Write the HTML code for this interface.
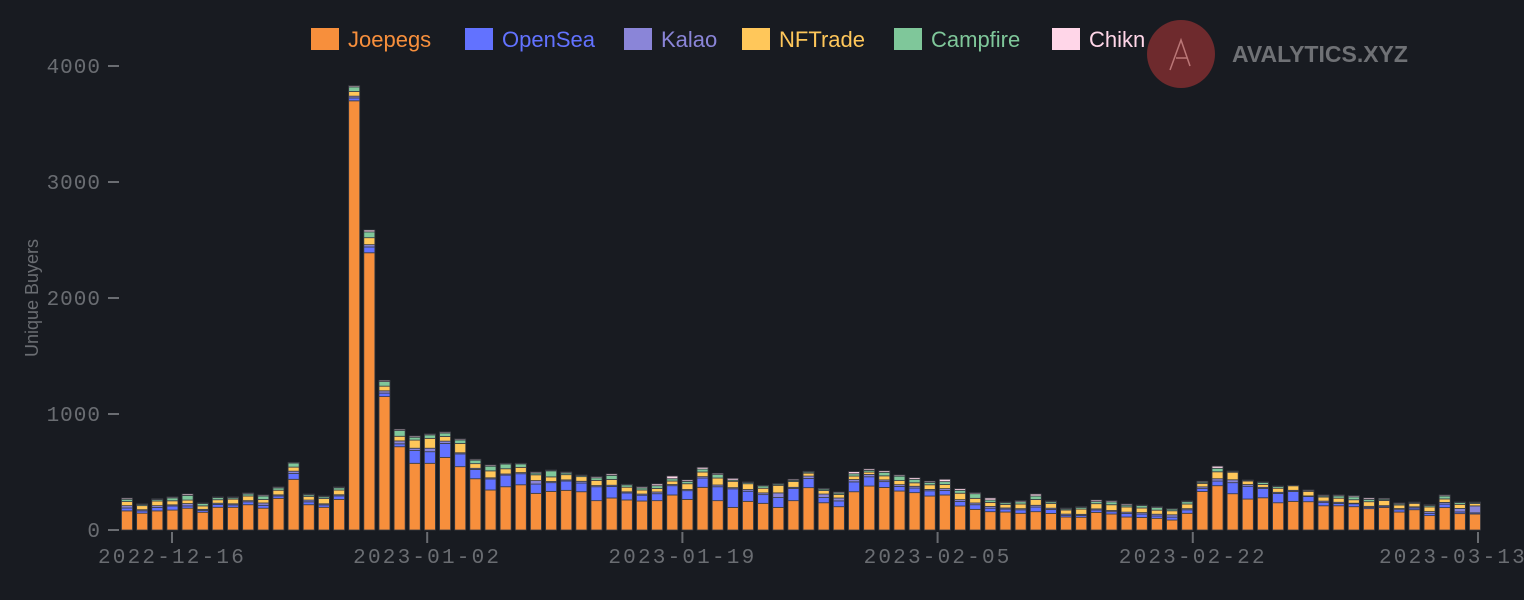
<!DOCTYPE html>
<html><head><meta charset="utf-8">
<style>
html,body{margin:0;padding:0;background:#181b21;}
svg{display:block;}
</style></head>
<body>
<svg id="chart" width="1524" height="600" xmlns="http://www.w3.org/2000/svg">
<rect x="0" y="0" width="1524" height="600" fill="#181b21"/>
<g>
<circle cx="1181" cy="54" r="34" fill="#6e2a2d"/>
<path d="M1170 70 L1181 40 L1190 66 M1176 58 L1187 58" stroke="#b77" stroke-width="1.5" fill="none"/>
<text x="1232" y="62" font-family="Liberation Sans, sans-serif" font-weight="bold" font-size="23" fill="#6f7175">AVALYTICS.XYZ</text>
</g>
<g id="legend"></g>
<text x="38" y="298" transform="rotate(-90 38 298)" text-anchor="middle" font-family="Liberation Sans, sans-serif" font-size="18" fill="#6a6d72">Unique Buyers</text>
<g id="yaxis"></g>
<g id="xaxis"></g>
<g id="bars"></g>
</svg>
<script>
const startDate = "2022-12-13";
const seriesNames = ["Joepegs","OpenSea","Kalao","NFTrade","Campfire","Chikn"];
const seriesColors = ["#f78f3c","#6272ff","#8a85d8","#ffc75a","#7fc79a","#ffd6e8"];
const yTicks = [0,1000,2000,3000,4000];
const xTickLabels = ["2022-12-16","2023-01-02","2023-01-19","2023-02-05","2023-02-22","2023-03-13"];
const joepegs = [165,145,165,172,188,153,196,196,218,188,273,437,218,196,264,3700,2390,1150,718,575,575,626,546,442,345,373,390,316,333,342,330,253,276,259,250,253,302,264,368,253,195,247,230,195,253,365,235,201,330,379,367,336,322,293,302,207,178,158,155,144,158,143,112,110,152,138,112,108,101,86,144,332,382,313,267,278,235,247,244,209,209,201,184,195,155,175,124,193,141,138];
const opensea = [25,20,30,35,20,15,25,20,25,25,20,50,25,20,30,25,50,30,25,110,100,120,110,80,95,100,95,80,75,80,75,120,100,60,50,60,80,75,80,120,160,87,75,85,105,80,45,50,85,80,50,40,40,45,40,40,40,30,25,30,40,35,15,15,20,20,30,30,20,25,30,25,40,95,110,80,80,85,45,30,20,25,10,10,20,15,20,30,15,10];
const kalao = [20,10,15,10,20,10,10,10,10,20,10,20,15,10,10,15,20,20,25,20,30,20,10,10,10,10,10,30,10,10,15,10,10,10,10,15,10,10,12,15,10,15,15,40,10,20,30,25,20,20,15,15,15,12,15,15,15,15,10,10,15,10,10,10,10,10,12,12,15,20,10,15,20,25,15,10,10,10,5,10,10,5,10,5,10,10,15,15,30,60];
const nftrade = [35,35,40,35,30,30,30,40,40,30,40,35,30,45,40,40,60,40,40,70,85,40,80,40,60,45,45,50,40,45,40,45,50,40,35,30,30,50,40,60,55,50,40,65,50,25,30,30,30,20,35,35,30,40,35,55,40,35,30,40,50,40,35,45,45,50,45,40,35,35,40,30,60,65,30,25,35,40,40,35,35,30,40,45,30,30,40,30,35,20];
const campfire = [20,10,12,25,40,20,18,12,18,30,20,35,15,15,20,40,50,40,50,25,30,30,30,30,40,40,30,15,52,15,10,22,35,20,18,24,20,20,25,30,10,10,20,10,10,10,12,12,20,15,30,38,30,20,25,25,40,20,15,20,30,15,10,15,18,25,15,20,22,15,20,10,30,5,5,18,15,0,3,10,20,25,20,10,10,6,12,25,15,8];
const chikn = [10,5,7,8,12,5,6,7,8,9,8,6,7,7,7,10,16,10,10,10,8,9,9,8,10,7,5,9,7,8,4,10,12,5,10,15,23,12,15,10,15,5,5,5,9,6,7,9,18,12,13,10,14,10,20,14,9,18,6,9,17,7,7,6,13,10,10,5,8,3,6,8,18,5,4,3,4,3,8,8,8,10,12,8,8,5,7,9,5,5];
const series = [joepegs,opensea,kalao,nftrade,campfire,chikn];

const NS="http://www.w3.org/2000/svg";
const Y0=530, YPX=464/4000, BW=11;
const TICK_X0=172, DAY=(1478-172)/87;
const xTimeScale = d => TICK_X0 + (d-3)*DAY;
const BAR_X0=127, BAR_X1=1475;
const xBand = i => BAR_X0 + i*(BAR_X1-BAR_X0)/(joepegs.length-1);
const yScale = v => Y0 - v*YPX;
function dayIndex(s){return Math.round((Date.parse(s+"T00:00:00Z")-Date.parse(startDate+"T00:00:00Z"))/86400000);}
function mk(tag,attrs,parent){const e=document.createElementNS(NS,tag);for(const k in attrs)e.setAttribute(k,attrs[k]);parent.appendChild(e);return e;}

const lg=document.getElementById("legend");
const legendX=[311,465,624,742,894,1052];
seriesNames.forEach((n,i)=>{
  const g=mk("g",{},lg);
  
  
  mk("rect",{x:legendX[i],y:28,width:28,height:22,fill:seriesColors[i]},g);
  const t=mk("text",{x:legendX[i]+37,y:47,"font-family":"Liberation Sans, sans-serif","font-size":"22",fill:seriesColors[i]},g);
  t.textContent=n;
});

const ya=document.getElementById("yaxis");
yTicks.forEach(v=>{
  const y=yScale(v);
  const l=mk("line",{x1:108,x2:119,y1:y,y2:y,stroke:"#6a6d72","stroke-width":2},ya);
  
  
  const t=mk("text",{x:101,y:y+7,"text-anchor":"end","font-family":"Liberation Mono, monospace","font-size":"21","letter-spacing":"1",fill:"#6a6d72"},ya);
  
  
  t.textContent=v;
});

const xa=document.getElementById("xaxis");
xTickLabels.forEach(s=>{
  const x=xTimeScale(dayIndex(s));
  const l=mk("line",{x1:x,x2:x,y1:532,y2:543,stroke:"#6a6d72","stroke-width":2},xa);
  
  
  const last = x + 76 > 1524;
  const t=mk("text",{x:last?1527:x,y:563,"text-anchor":last?"end":"middle","font-family":"Liberation Mono, monospace","font-size":"21","letter-spacing":"2.2",fill:"#6a6d72"},xa);
  
  
  t.textContent=s;
});

const bg=document.getElementById("bars");
joepegs.forEach((_,i)=>{
  let acc=0;
  const cx=xBand(i);
  series.forEach((arr,s)=>{
    const v=arr[i]; if(!v) return;
    const y1=yScale(acc+v), y2=yScale(acc);
    const r=mk("rect",{x:cx-BW/2,y:y1,width:BW,height:Math.max(0.5,y2-y1),fill:seriesColors[s],stroke:"#3a3d44","stroke-width":0.8},bg);
    
    
    acc+=v;
  });
});
</script>
</body></html>
